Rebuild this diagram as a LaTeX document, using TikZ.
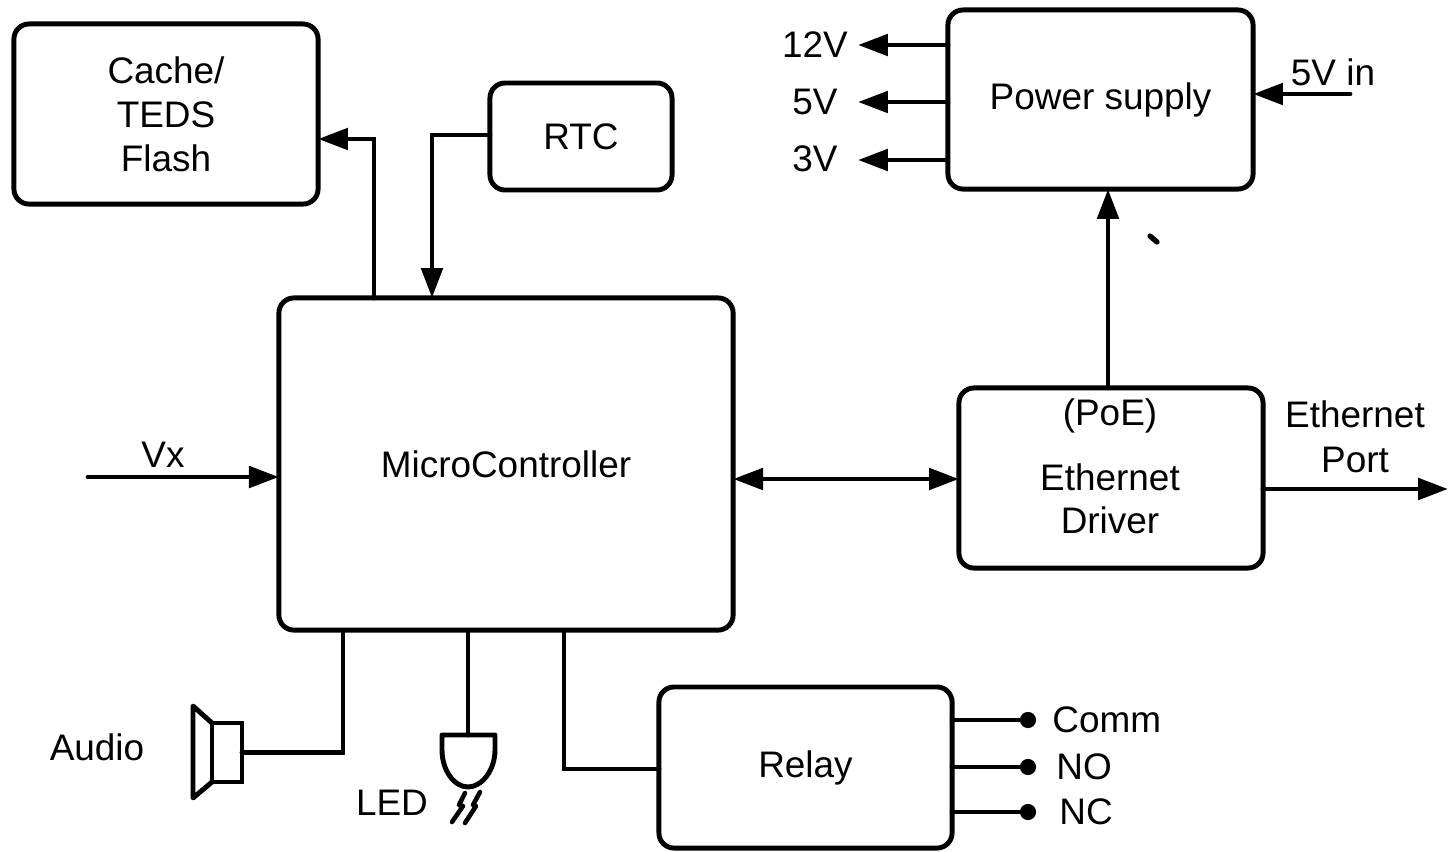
\documentclass[tikz,border=0pt]{standalone}
\usepackage{fontspec}
\setmainfont{Liberation Sans}
\usetikzlibrary{arrows.meta,calc}
\begin{document}
\begin{tikzpicture}[x=0.01cm,y=-0.01cm,
 line width=1.4pt, line cap=round,
 txt/.style={font=\fontsize{10.5}{12.6}\selectfont},
 box/.style={draw, rounded corners=4.3pt, inner sep=0pt, outer sep=0pt, txt, align=center},
 lbl/.style={inner sep=0pt, txt, align=center},
 arr/.style={-{Triangle[length=8.5pt,width=6pt]}},
 darr/.style={{Triangle[length=8.5pt,width=6pt]}-{Triangle[length=8.5pt,width=6pt]}}]
\useasboundingbox (0,0) rectangle (1451,851);

% boxes
\node[box, minimum width=3.04cm, minimum height=1.80cm, font=\fontsize{10.5}{12.5}\selectfont] (cache) at (166,114) {Cache/\\TEDS\\Flash};
\node[box, minimum width=1.82cm, minimum height=1.07cm] (rtc) at (581,136.5) {RTC};
\node[box, minimum width=4.54cm, minimum height=3.32cm] (mc) at (506,464) {MicroController};
\node[box, minimum width=3.05cm, minimum height=1.79cm] (ps) at (1100.5,99.5) {Power supply};
\node[box, minimum width=3.04cm, minimum height=1.80cm] (eth) at (1111,478) {};
\node[lbl] (poe) at (1110,416) {(PoE)};
\node[lbl] (etht) at (1110,477) {Ethernet};
\node[lbl] (drv) at (1110,520) {Driver};
\node[box, minimum width=2.93cm, minimum height=1.61cm] (relay) at (805.5,767.5) {Relay};

% microcontroller to cache
\coordinate (k1) at (374,139);
\draw[arr] (k1 |- mc.north) |- (cache.east |- k1);
% rtc to microcontroller
\coordinate (k2) at (432,135);
\draw[arr] (rtc.west |- k2) -| (k2 |- mc.north);
% Vx
\coordinate (vxs) at (88,477);
\draw[arr] (vxs) -- (mc.west |- vxs);
\node[lbl] (vx) at (163,455) {Vx};
% MC <-> Ethernet
\coordinate (k3) at (0,479);
\draw[darr] (mc.east |- k3) -- (eth.west |- k3);
% Ethernet port
\coordinate (ep) at (1448,489);
\draw[arr] (eth.east |- ep) -- (ep);
\node[lbl, font=\fontsize{10.5}{12.8}\selectfont] (ept) at (1355,437) {Ethernet\\Port};
% Ethernet to power supply
\coordinate (k4) at (1108,0);
\draw[arr] (k4 |- eth.north) -- (k4 |- ps.south);
\draw[line width=1.5pt] (1150,236) -- (1157,242);

% power outputs
\coordinate (o12) at (858,45);
\coordinate (o5) at (858,102);
\coordinate (o3) at (858,160);
\draw[arr] (ps.west |- o12) -- (o12);
\draw[arr] (ps.west |- o5) -- (o5);
\draw[arr] ([xshift=-1pt]ps.west |- o3) -- (o3);
\node[lbl] (l12) at (815,45) {12V};
\node[lbl] (l5) at (815,102) {5V};
\node[lbl] (l3) at (815,159) {3V};
\coordinate (in5) at (1350,94);
\draw[arr] (in5) -- (ps.east |- in5);
\node[lbl] (l5in) at (1333,72) {5V in};

% audio
\node[draw, minimum width=0.30cm, minimum height=0.59cm, inner sep=0pt, outer sep=0pt] (spk) at (227,752.5) {};
\draw[line join=round] (spk.north west) -- (193,706) -- (193,798) -- (spk.south west);
\coordinate (a1) at (343,753);
\draw (a1 |- mc.south) |- (spk.east);
\node[lbl] (audio) at (97,747) {Audio};

% LED
\coordinate (led) at (468,735);
\draw (led |- mc.south) -- (led);
\draw[line join=round] (442,735) -- (495,735) -- (495,750) .. controls (495,770) and (482,787) .. (468,787) .. controls (454,787) and (442,770) .. (442,750) -- cycle;
\draw[line width=1.3pt, line join=round] (465,793) -- (459,805) -- (463,806) -- (452,822);
\draw[line width=1.3pt, line join=round] (480,792) -- (473,805) -- (476,806) -- (465,823);
\node[lbl] (ledl) at (392,803) {LED};

% relay
\coordinate (r1) at (564,769);
\draw (r1 |- mc.south) |- (relay.west |- r1);
\coordinate (pc) at (1028,720);
\coordinate (pno) at (1028,767);
\coordinate (pnc) at (1028,812);
\draw (relay.east |- pc) -- (pc);
\draw (relay.east |- pno) -- (pno);
\draw (relay.east |- pnc) -- (pnc);
\fill (pc) circle (2.3pt);
\fill (pno) circle (2.3pt);
\fill (pnc) circle (2.3pt);
\node[lbl, anchor=west] (comm) at (1050,720) {Comm};
\node[lbl, anchor=west] (no) at (1054,767) {NO};
\node[lbl, anchor=west] (nc) at (1057,812) {NC};
\end{tikzpicture}
\end{document}
